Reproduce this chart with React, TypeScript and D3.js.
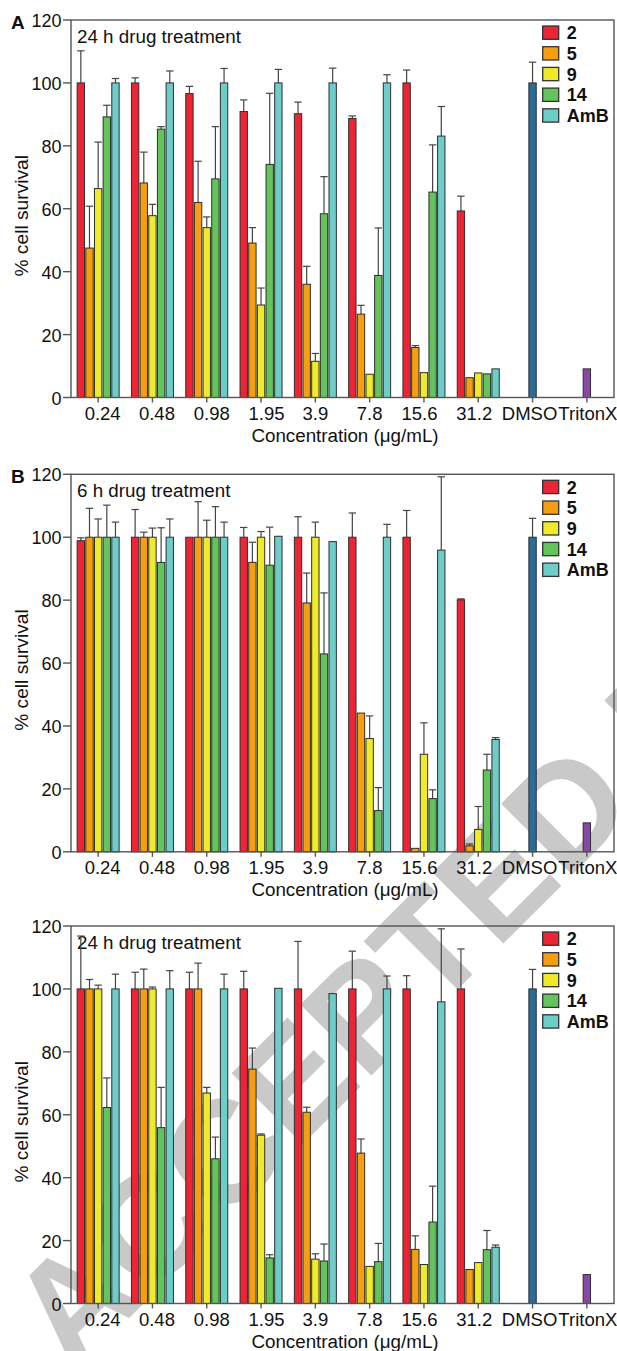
import React from 'react'
import * as d3 from 'd3'

// categories and series
const concentrations = ['0.24', '0.48', '0.98', '1.95', '3.9', '7.8', '15.6', '31.2']
const controls = ['DMSO', 'TritonX']
const compounds = ['2', '5', '9', '14', 'AmB']
const compoundColors = ['#ec2434', '#f59e10', '#efeb2b', '#63c45b', '#6dcdc8']
const controlColors = ['#2b6c99', '#8748a8']

// panel A - 24 h (mean % survival, upper error)
const a2 = [100, 100, 96.6, 90.9, 90.2, 88.7, 100, 59.3]
const a2Err = [10.2, 1.6, 2.3, 3.7, 3.7, 0.8, 4.1, 4.7]
const a5 = [47.5, 68.2, 62, 49.1, 36, 26.5, 15.9, 6.3]
const a5Err = [13.3, 9.8, 13.1, 4.9, 5.7, 2.8, 0.6, 0]
const a9 = [66.4, 57.8, 54, 29.4, 11.5, 7.4, 7.9, 7.8]
const a9Err = [14.8, 3.6, 3.4, 5.4, 2.5, 0, 0, 0]
const a14 = [89.2, 85.3, 69.5, 74.1, 58.4, 38.8, 65.3, 7.5]
const a14Err = [3.7, 0.8, 16.6, 22.6, 11.8, 15.1, 15, 0]
const aAmB = [100, 100, 100, 100, 100, 100, 83.1, 9.1]
const aAmBErr = [1.4, 3.8, 4.6, 4.3, 4.7, 2.6, 9.4, 0]
const aControls = [100, 9.1]
const aControlsErr = [6.6, 0]

// panel B - 6 h
const b2 = [98.9, 100, 100, 100, 100, 100, 100, 80.1]
const b2Err = [0.9, 8.8, 0, 3.1, 6.5, 7.7, 8.5, 0.3]
const b5 = [100, 100, 100, 92, 79.1, 44.1, 1.1, 1.9]
const b5Err = [9.2, 1.6, 11.3, 6.4, 9.5, 0, 0, 0.6]
const b9 = [100, 100, 100, 100, 100, 36, 31, 7.1]
const b9Err = [5.8, 2.9, 5.4, 1.8, 4.8, 7.2, 10, 7.3]
const b14 = [100, 92, 100, 91.1, 62.9, 13.1, 16.9, 26]
const b14Err = [10.2, 11, 9.7, 12.1, 19.4, 7.3, 2.8, 5]
const bAmB = [100, 100, 100, 100.3, 98.6, 100, 95.9, 35.7]
const bAmBErr = [4.8, 5.8, 4.8, 0, 0, 4.1, 23.3, 0.6]
const bControls = [100, 9.2]
const bControlsErr = [6, 0]

// panel C - 24 h
const c2 = [100, 100, 100, 100, 100, 100, 100, 100]
const c2Err = [16.8, 5.3, 5.3, 5.6, 15.1, 12, 4.2, 12.7]
const c5 = [100, 100, 100, 74.5, 60.8, 47.8, 17.2, 10.8]
const c5Err = [3, 6.3, 8.2, 6.7, 1.6, 4.5, 4.3, 0]
const c9 = [100, 100, 66.9, 53.5, 14.1, 11.8, 12.4, 13]
const c9Err = [1.2, 0.6, 1.8, 0.4, 1.7, 0, 0, 0]
const c14 = [62.3, 55.9, 46, 14.5, 13.5, 13.3, 25.9, 17.1]
const c14Err = [9.4, 12.8, 6.9, 1, 5.4, 5.8, 11.4, 6.1]
const cAmB = [100, 100, 100, 100.2, 98.5, 100, 95.9, 17.9]
const cAmBErr = [4.7, 5.8, 4.7, 0, 0, 4.1, 23.2, 0.7]
const cControls = [100, 9.2]
const cControlsErr = [6.2, 0]

const yTicks = [0, 20, 40, 60, 80, 100, 120]

// layout
const W = 617
const H = 1351
const left = 71
const right = 614
const plotH = 377.5
const font = '"Liberation Sans", Arial, Helvetica, sans-serif'
const labelNudge = [4.5, 4.5, 5, 5.5, 0, 0, -4.5, -4, -3, 1]

interface PanelProps {
  top: number
  letter?: string
  title: string
  values: number[][]
  errors: number[][]
  ctrl: number[]
  ctrlErr: number[]
}

const Panel = ({ top, letter, title, values, errors, ctrl, ctrlErr }: PanelProps) => {
  const bottom = top + plotH
  const y = d3.scaleLinear().domain([0, 120]).range([bottom, top])
  const x = d3.scaleBand<string>().domain([...concentrations, ...controls]).range([left, right])
  const xs = d3.scaleBand<string>().domain(compounds).range([-21, 21]).paddingInner(0.15)
  const bw = xs.bandwidth()
  const mid = (c: string) => (x(c) as number) + x.bandwidth() / 2

  const bars: { cx: number; v: number; e: number; fill: string }[] = []
  compounds.forEach((s, si) => {
    concentrations.forEach((c, ci) => {
      bars.push({ cx: mid(c) + (xs(s) as number) + bw / 2, v: values[si][ci], e: errors[si][ci], fill: compoundColors[si] })
    })
  })
  controls.forEach((c, i) => bars.push({ cx: mid(c), v: ctrl[i], e: ctrlErr[i], fill: controlColors[i] }))

  return (
    <g fontFamily={font} fill="#111">
      {letter && <text x={11} y={top + 8.5} fontSize={19} fontWeight="bold">{letter}</text>}
      <text x={77} y={top + 22.5} fontSize={18.8}>{title}</text>

      {bars.map((b, i) => (
        <g key={i}>
          {b.e > 0 && (
            <g stroke="#444" strokeWidth={1.2}>
              <line x1={b.cx} x2={b.cx} y1={y(b.v)} y2={y(b.v + b.e)} />
              <line x1={b.cx - bw / 2} x2={b.cx + bw / 2} y1={y(b.v + b.e)} y2={y(b.v + b.e)} />
            </g>
          )}
          <rect x={b.cx - bw / 2} y={y(b.v)} width={bw} height={bottom - y(b.v)} fill={b.fill} stroke="#2e2e2e" strokeWidth={1} />
        </g>
      ))}

      {/* frame */}
      <rect x={left} y={top} width={right - left} height={plotH} fill="none" stroke="#555" strokeWidth={1.4} />

      {yTicks.map(t => (
        <g key={t}>
          <line x1={left - 8} x2={left} y1={y(t)} y2={y(t)} stroke="#555" strokeWidth={1.4} />
          <text x={61.5} y={y(t) + 7} fontSize={18} textAnchor="end">{t}</text>
        </g>
      ))}
      {[...concentrations, ...controls].map((c, i) => (
        <g key={c}>
          <line x1={mid(c)} x2={mid(c)} y1={bottom} y2={bottom + 5} stroke="#555" strokeWidth={1.4} />
          <text x={mid(c) + labelNudge[i]} y={bottom + 22.5} fontSize={18.5} textAnchor="middle">{c}</text>
        </g>
      ))}
      <text x={345} y={bottom + 44} fontSize={18.8} textAnchor="middle">Concentration (μg/mL)</text>
      <text transform={`translate(28,${top + plotH / 2 + 7}) rotate(-90)`} fontSize={19.2} textAnchor="middle">% cell survival</text>

      {compounds.map((s, i) => (
        <g key={s}>
          <rect x={542.7} y={top + 6 + i * 20.7} width={16} height={13.3} fill={compoundColors[i]} stroke="#333" strokeWidth={1.3} />
          <text x={566.7} y={top + 19.3 + i * 20.7} fontSize={18} fontWeight="bold">{s}</text>
        </g>
      ))}
    </g>
  )
}

export default function App() {
  return (
    <div style={{ position: 'absolute', left: 0, top: 0, width: W, height: H, background: '#fff', overflow: 'hidden' }}>
      <svg width={W} height={H} style={{ display: 'block' }}>
        {/* manuscript watermark, behind the charts */}
        <text transform="translate(72,1375) rotate(-45)" fontFamily={font} fontWeight="bold" fontSize={146} fill="#c9c9c9">
          ACCEPTED MANUSCRIPT
        </text>
        <Panel top={20} letter="A" title="24 h drug treatment"
          values={[a2, a5, a9, a14, aAmB]} errors={[a2Err, a5Err, a9Err, a14Err, aAmBErr]}
          ctrl={aControls} ctrlErr={aControlsErr} />
        <Panel top={474.3} letter="B" title="6 h drug treatment"
          values={[b2, b5, b9, b14, bAmB]} errors={[b2Err, b5Err, b9Err, b14Err, bAmBErr]}
          ctrl={bControls} ctrlErr={bControlsErr} />
        <Panel top={926} title="24 h drug treatment"
          values={[c2, c5, c9, c14, cAmB]} errors={[c2Err, c5Err, c9Err, c14Err, cAmBErr]}
          ctrl={cControls} ctrlErr={cControlsErr} />
      </svg>
    </div>
  )
}
